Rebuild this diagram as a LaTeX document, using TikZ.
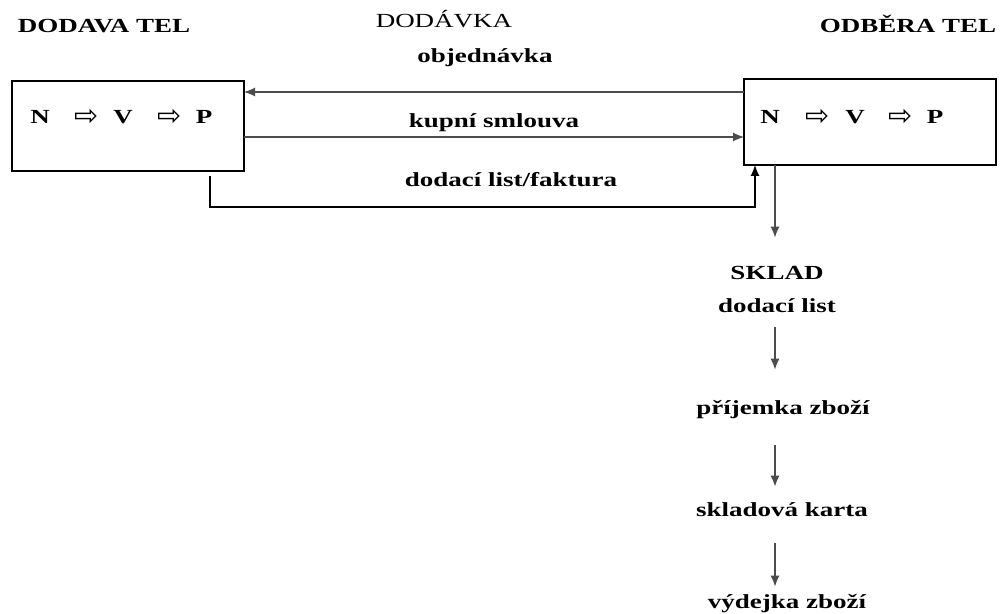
\documentclass[tikz,border=0pt]{standalone}
\usepackage{fontspec}
\setmainfont{Liberation Serif}[FakeStretch=1.35]
\newfontfamily\arrowfont{DejaVu Sans}
\usetikzlibrary{arrows.meta}
\tikzstyle{party} = [font=\bfseries, inner sep=0pt, anchor=base]
\tikzstyle{doc} = [font=\bfseries, inner sep=0pt, anchor=base, text height=8pt, text depth=2pt]
\tikzstyle{firm} = [rectangle, draw=black, line width=0.8pt, inner sep=0pt, outer sep=0pt]
\tikzstyle{letter} = [font=\bfseries, inner sep=0pt]
\tikzstyle{hollow} = [font=\arrowfont\Large, inner sep=0pt]
\tikzstyle{arrow} = [draw=black!70, line width=0.6pt, -{Latex[length=5.5pt,width=4.5pt]}]

\begin{document}
\begin{tikzpicture}[x=0.5pt, y=-0.5pt]
	\useasboundingbox (0,0) rectangle (1002,614);

		% Draw the nodes
		\node (dodavatel) [party] at (104,33) {DODAVA TEL};
		\node (dodavka) [party, font=\mdseries] at (444,28) {DODÁVKA};
		\node (odberatel) [party] at (908,33) {ODBĚRA TEL};
		\node (dod) [firm, minimum width=116pt, minimum height=45pt] at (128,126) {};
		\node (odb) [firm, minimum width=126pt, minimum height=43pt] at (870,122) {};
		% N => V => P
		\node (dodN) [letter] at (40,117) {N};
		\node (dodA1) [hollow] at (87,117) {⇨};
		\node (dodV) [letter] at (123,117) {V};
		\node (dodA2) [hollow] at (170,117) {⇨};
		\node (dodP) [letter] at (204,117) {P};
		\node (odbN) [letter] at (770,117) {N};
		\node (odbA1) [hollow] at (818,117) {⇨};
		\node (odbV) [letter] at (855,117) {V};
		\node (odbA2) [hollow] at (901,117) {⇨};
		\node (odbP) [letter] at (935,117) {P};
		% documents
		\node (objednavka) [doc] at (485,63) {objednávka};
		\node (kupni) [doc] at (494,128) {kupní smlouva};
		\node (faktura) [doc] at (511,187) {dodací list/faktura};
		\node (sklad) [doc] at (777,280) {SKLAD};
		\node (dodlist) [doc] at (777,313) {dodací list};
		\node (prijemka) [doc] at (783,415) {příjemka zboží};
		\node (karta) [doc] at (782,517) {skladová karta};
		\node (vydejka) [doc] at (787,609) {výdejka zboží};
		\coordinate (objy) at (0,92);
		\coordinate (kupy) at (0,137);
		\coordinate (dodout) at (210,176);
		\coordinate (odbin) at (755,207);
		\coordinate (skladx) at (775,0);

		%Draw the arrows
		\draw [arrow] (odb.west |- objy) -- (dod.east |- objy);
		\draw [arrow] (dod.east |- kupy) -- (odb.west |- kupy);
		\draw [arrow, draw=black] (dodout) |- (odbin) -- (odbin |- odb.south);
		\draw [arrow, shorten >=13pt] (skladx |- odb.south) -- (skladx |- sklad.north);
		\draw [arrow, shorten <=5pt, shorten >=14.5pt] (skladx |- dodlist.south) -- (skladx |- prijemka.north);
		\draw [arrow, shorten <=13pt, shorten >=7pt] (skladx |- prijemka.south) -- (skladx |- karta.north);
		\draw [arrow, shorten <=11pt, shorten >=3pt] (skladx |- karta.south) -- (skladx |- vydejka.north);

	\end{tikzpicture}
\end{document}
